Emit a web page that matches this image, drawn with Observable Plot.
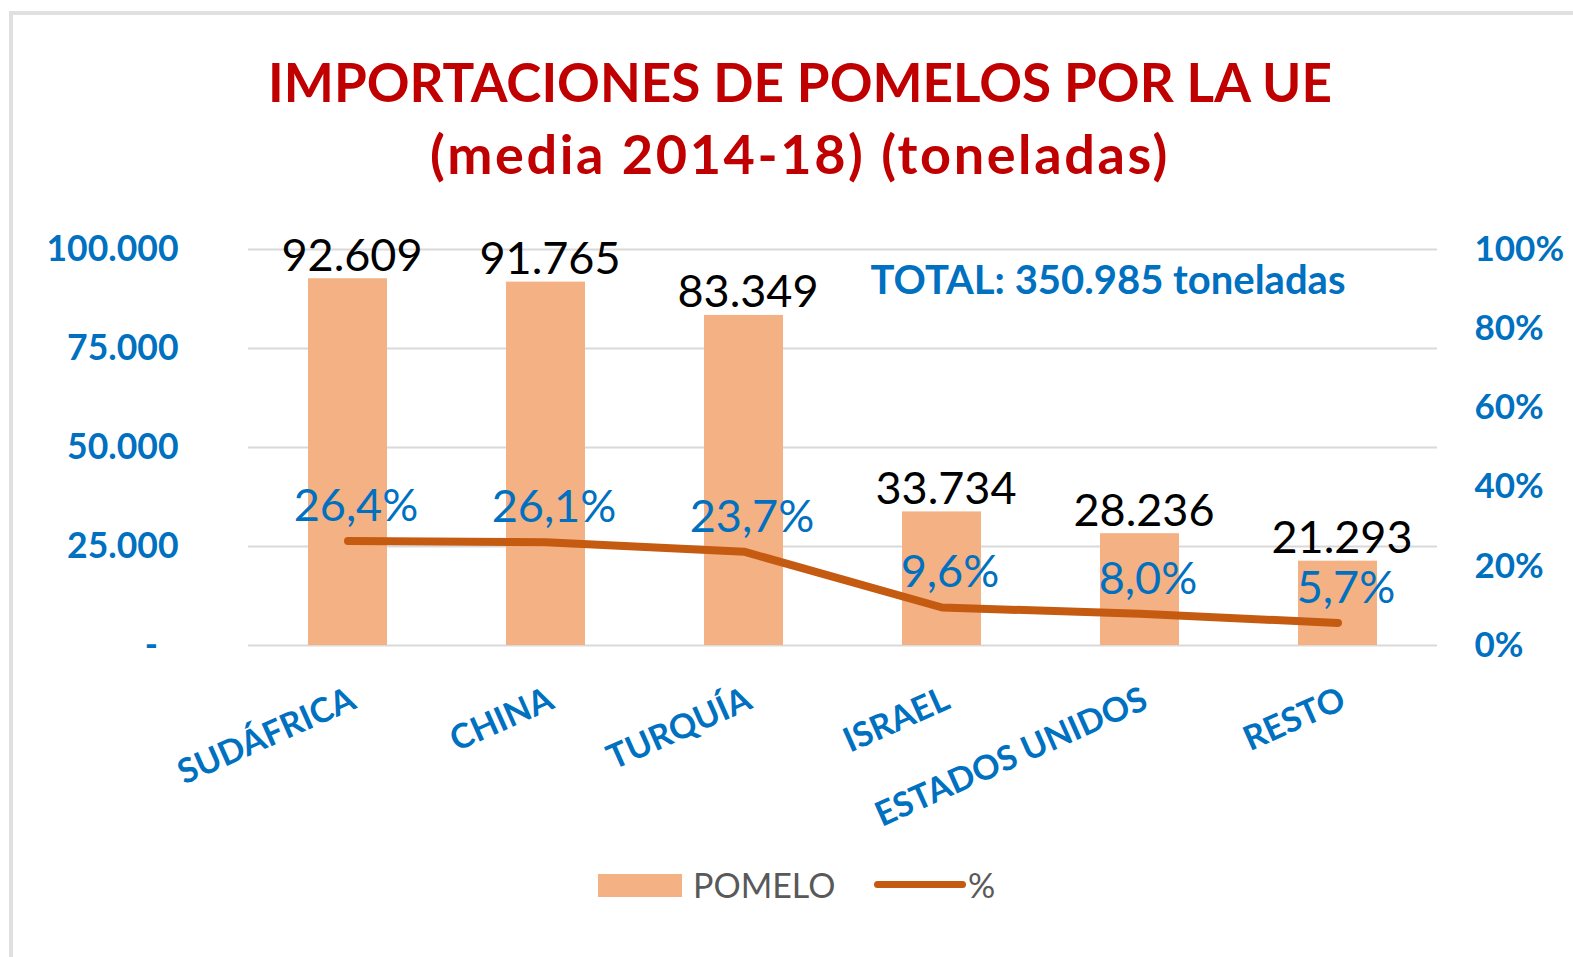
<!DOCTYPE html>
<html>
<head>
<meta charset="utf-8">
<script src="https://cdn.jsdelivr.net/npm/d3@7"></script>
<script src="https://cdn.jsdelivr.net/npm/@observablehq/plot@0.6"></script>
<style>
  html, body { margin: 0; padding: 0; background: #fff; overflow: hidden; }
  body { width: 1573px; height: 957px; position: relative; font-family: Lato, "Open Sans", sans-serif; }
  #frame { position: absolute; left: 9px; top: 11px; width: 1600px; height: 1000px; border: 4px solid #e0e0e0; box-sizing: border-box; }
  #title { position: absolute; left: 0; top: 46px; width: 1600px; text-align: center; color: #C00000; font-weight: bold; font-size: 53px; line-height: 72px; }
  #title .l2 { letter-spacing: 2.6px; font-size: 54px; }
  #chart { position: absolute; left: 0; top: 200px; }
  #legend { position: absolute; left: 0; top: 860px; width: 1573px; height: 50px; font-size: 34px; color: #595959; }
  .sw-bar { position: absolute; left: 598px; top: 14px; width: 84px; height: 23px; background: #F4B183; }
  .sw-line { position: absolute; left: 874px; top: 21px; width: 92px; height: 7px; border-radius: 4px; background: #C55A11; }
  .lg-text { position: absolute; top: 3px; line-height: 44px; }
</style>
</head>
<body>
<div id="frame"></div>
<div id="title"><span class="l1">IMPORTACIONES DE POMELOS POR LA UE</span><br><span class="l2">(media 2014-18) (toneladas)</span></div>
<div id="chart"></div>
<div id="legend">
  <div class="sw-bar"></div><div class="lg-text" id="lg1" style="left:693px"></div>
  <div class="sw-line"></div><div class="lg-text" id="lg2" style="left:968px"></div>
</div>
<script>
// ---- data ----
const categories = ["SUDÁFRICA", "CHINA", "TURQUÍA", "ISRAEL", "ESTADOS UNIDOS", "RESTO"];
const tonnes = [92609, 91765, 83349, 33734, 28236, 21293];
const shares = [26.4, 26.1, 23.7, 9.6, 8.0, 5.7];
const leftTicks = [0, 25000, 50000, 75000, 100000];
const rightTicks = [0, 20, 40, 60, 80, 100];
const total = 350985;
const seriesNames = ["POMELO", "%"];

// ---- formatting ----
const esLocale = d3.formatLocale({decimal: ",", thousands: ".", grouping: [3], currency: ["", " €"]});
const fmtInt = esLocale.format(",d");
const fmtPct = esLocale.format(".1f");

document.getElementById("lg1").textContent = seriesNames[0];
document.getElementById("lg2").textContent = seriesNames[1];

const rows = categories.map((c, i) => ({cat: c, tonnes: tonnes[i], share: shares[i]}));
// 100% on the right axis aligns with 100.000 t on the left axis
const pctToY = p => p * 1000;

const blue = "#0070C0";

const chart = Plot.plot({
  width: 1573,
  height: 660,
  marginLeft: 248,
  marginRight: 136,
  marginTop: 49,
  marginBottom: 215,
  style: {fontFamily: "Lato, 'Open Sans', sans-serif", background: "transparent", overflow: "visible"},
  x: {domain: categories, paddingInner: 0.6, paddingOuter: 0.3, axis: null},
  y: {domain: [0, 100000], axis: null},
  marks: [
    Plot.gridY(leftTicks, {stroke: "#d9d9d9", strokeOpacity: 1, strokeWidth: 2}),
    Plot.axisY(leftTicks, {
      anchor: "left", tickSize: 0, tickPadding: 70,
      tickFormat: d => d === 0 ? "-\u2007" : fmtInt(d),
      fill: blue, fontSize: 35.5, fontWeight: "bold", label: null
    }),
    Plot.axisY(rightTicks.map(pctToY), {
      anchor: "right", tickSize: 0, tickPadding: 37,
      tickFormat: d => Math.round(d / 1000) + "%",
      fill: blue, fontSize: 35, fontWeight: "bold", label: null
    }),
    Plot.barY(rows, {x: "cat", y: "tonnes", fill: "#F4B183"}),
    Plot.line(rows, {
      x: "cat", y: d => pctToY(d.share), stroke: "#C55A11", strokeWidth: 8,
      strokeLinecap: "round", strokeLinejoin: "round"
    }),
    Plot.text(rows, {
      x: "cat", y: "tonnes", text: d => fmtInt(d.tonnes), dx: 4, dy: -8,
      lineAnchor: "bottom", fontSize: 45, fill: "#000"
    }),
    Plot.text(rows, {
      x: "cat", y: d => pctToY(d.share), text: d => fmtPct(d.share) + "%", dx: 8, dy: -20,
      lineAnchor: "bottom", fontSize: 45, fill: blue
    }),
    Plot.text(categories, {
      x: d => d, frameAnchor: "bottom", rotate: -24, textAnchor: "end", lineAnchor: "top",
      dy: 40, fontSize: 34, fontWeight: "bold", fill: blue
    }),
    Plot.text([`TOTAL: ${fmtInt(total)} toneladas`], {
      frameAnchor: "top", dx: 265, dy: 32, lineAnchor: "middle",
      fontSize: 40, fontWeight: "bold", fill: blue
    })
  ]
});
document.getElementById("chart").appendChild(chart);
</script>
</body>
</html>
